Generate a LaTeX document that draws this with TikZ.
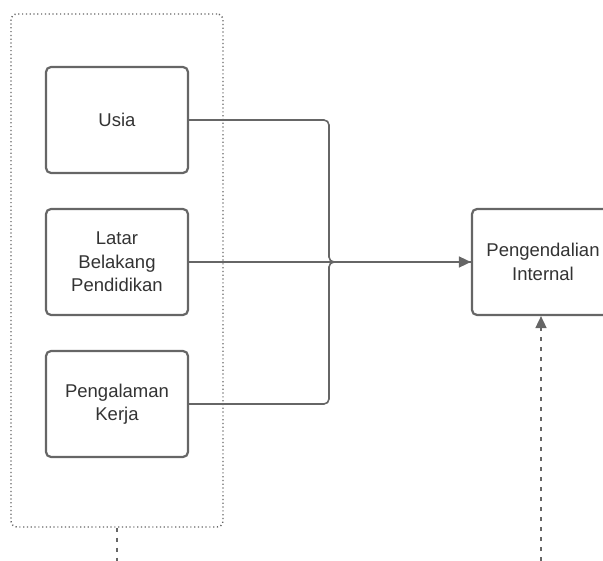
\documentclass[tikz,border=0pt]{standalone}
\usepackage{fontspec}
\setmainfont{Liberation Sans}
\usetikzlibrary{arrows.meta,calc}
\definecolor{lineg}{HTML}{666666}
\definecolor{txtg}{HTML}{333333}
\tikzset{
  box/.style={draw=lineg, line width=2.2pt, rounded corners=5pt, minimum width=142pt, minimum height=106pt, inner sep=0pt, align=center, text=txtg, font=\fontsize{18.5}{23.5}\selectfont},
  conn/.style={draw=lineg, line width=1.6pt},
  dotbox/.style={draw=lineg, line width=1.4pt, dash pattern=on 1.2pt off 2.6pt, rounded corners=6pt},
  dsh/.style={draw=lineg, line width=1.6pt, dash pattern=on 4pt off 6pt},
  tip/.style={-{Triangle[length=12pt,width=11pt]}}
}
\begin{document}
\begin{tikzpicture}[x=1pt,y=-1pt]
\useasboundingbox (0,0) rectangle (603,561);
\clip (0,0) rectangle (603,561);
\node[draw=none, minimum width=212pt, minimum height=513pt, dotbox] (grp) at (117,270.5) {};
\node[box] (usia) at (117,120) {Usia};
\node[box] (latar) at (117,262) {Latar\\Belakang\\Pendidikan};
\node[box] (kerja) at (117,404) {Pengalaman\\Kerja};
\node[box] (pi) at (543,262) {Pengendalian\\Internal};
\coordinate (j) at (329,262);
\draw[conn, rounded corners=5pt] (usia.east) -| (j) -- (pi.west);
\draw[conn, rounded corners=5pt] (kerja.east) -| (j) -- (pi.west);
\draw[conn, tip] (latar.east) -- (pi.west);
\coordinate (b1) at (117,561);
\coordinate (b2) at (541,561);
\draw[dsh] (grp.south) -- (b1);
\draw[dsh, tip] (b2) -- (pi.south -| b2);
\end{tikzpicture}
\end{document}
